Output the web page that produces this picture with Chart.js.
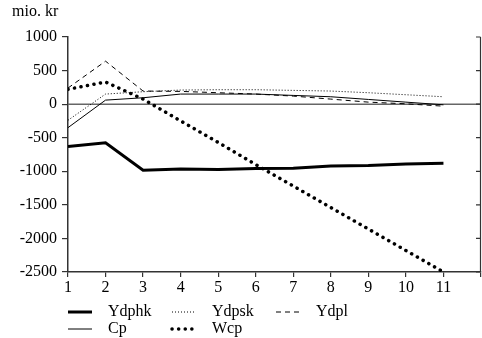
<!DOCTYPE html>
<html>
<head>
<meta charset="utf-8">
<script src="https://cdn.jsdelivr.net/npm/chart.js@4/dist/chart.umd.min.js"></script>
<style>
  html, body { margin: 0; padding: 0; background: #fff; }
  #wrap { width: 482px; height: 338px; position: relative; }
</style>
</head>
<body>
<div id="wrap"><canvas id="chart" width="482" height="338"></canvas></div>
<script>
'use strict';

// periods on the x axis
const periods = [1, 2, 3, 4, 5, 6, 7, 8, 9, 10, 11];

// values, mio. kr
const ydphk = [-630, -575, -985, -965, -975, -960, -955, -920, -915, -890, -880];
const ydpsk = [-240, 150, 185, 210, 215, 215, 205, 195, 170, 140, 110];
const ydpl  = [240, 640, 195, 190, 170, 150, 120, 75, 30, 5, -30];
const cp    = [-350, 60, 95, 150, 150, 150, 130, 110, 70, 30, -10];
const wcp   = [220, 330, 75, -250, -570, -900, -1220, -1540, -1860, -2180, -2500];

const FONT = '"Liberation Serif", "Times New Roman", serif';
const FONT_SIZE = 16;
const AXIS = '#333';

function points(values) {
    return periods.map(function (p, i) { return { x: p, y: values[i] }; });
}

function series(label, values, width, dash, cap) {
    return {
        label: label,
        data: points(values),
        borderColor: '#000',
        borderWidth: width,
        borderDash: dash,
        borderCapStyle: cap || 'butt',
        pointRadius: 0,
        tension: 0,
        fill: false,
    };
}

const datasets = [
    series('Ydphk', ydphk, 3, []),
    series('Ydpsk', ydpsk, 1, [1, 2]),
    series('Ydpl', ydpl, 1, [5, 4]),
    series('Cp', cp, 1, []),
    series('Wcp', wcp, 3.5, [0.1, 6.5], 'round'),
];

// where each legend entry sits: [column x, row y]
const legendSlots = [[68, 312], [172, 312], [276, 312], [68, 329], [172, 329]];

const framePlugin = {
    id: 'frame',
    beforeDatasetsDraw: function (chart) {
        const ctx = chart.ctx;
        const area = chart.chartArea;
        const y = chart.scales.y;
        const zero = y.getPixelForValue(0);

        ctx.save();
        // zero line
        ctx.strokeStyle = '#666';
        ctx.lineWidth = 1.5;
        ctx.beginPath();
        ctx.moveTo(area.left, zero);
        ctx.lineTo(area.right, zero);
        ctx.stroke();

        // right axis with inward ticks
        ctx.strokeStyle = AXIS;
        ctx.lineWidth = 1.2;
        ctx.beginPath();
        ctx.moveTo(area.right - 0.5, y.getPixelForValue(y.max));
        ctx.lineTo(area.right - 0.5, area.bottom);
        y.ticks.forEach(function (t) {
            const py = y.getPixelForValue(t.value);
            ctx.moveTo(area.right - 0.5, py);
            ctx.lineTo(area.right - 5, py);
        });
        ctx.stroke();
        ctx.restore();
    },
    afterDraw: function (chart) {
        const ctx = chart.ctx;
        ctx.save();
        ctx.fillStyle = '#000';
        ctx.font = FONT_SIZE + 'px ' + FONT;
        ctx.textBaseline = 'middle';
        ctx.textAlign = 'left';
        ctx.fillText('mio. kr', 12, 12);

        chart.data.datasets.forEach(function (ds, i) {
            const slot = legendSlots[i];
            ctx.strokeStyle = ds.borderColor;
            ctx.lineWidth = ds.borderWidth;
            ctx.setLineDash(ds.borderDash);
            ctx.lineCap = ds.borderCapStyle;
            ctx.beginPath();
            ctx.moveTo(slot[0], slot[1]);
            ctx.lineTo(slot[0] + 24, slot[1]);
            ctx.stroke();
            ctx.setLineDash([]);
            ctx.fillText(ds.label, slot[0] + 40, slot[1]);
        });
        ctx.restore();
    },
};

new Chart(document.getElementById('chart'), {
    type: 'line',
    data: { datasets: datasets },
    options: {
        responsive: false,
        animation: false,
        devicePixelRatio: 1,
        layout: { padding: { top: 37, right: 1, bottom: 36, left: 0 } },
        plugins: {
            legend: { display: false },
            tooltip: { enabled: false },
        },
        scales: {
            x: {
                type: 'linear',
                min: 1,
                max: 12,
                ticks: {
                    stepSize: 1,
                    color: '#000',
                    font: { family: FONT, size: FONT_SIZE },
                    padding: 1,
                    maxRotation: 0,
                    callback: function (v) { return v === 12 ? '' : String(v); },
                },
                grid: { display: true, drawOnChartArea: false, drawTicks: true, tickLength: 5, color: AXIS, lineWidth: 1.2 },
                border: { display: true, color: AXIS, width: 1.5 },
                afterFit: function (s) { s.height = 30; },
            },
            y: {
                min: -2500,
                max: 1000,
                ticks: {
                    stepSize: 500,
                    color: '#000',
                    font: { family: FONT, size: FONT_SIZE },
                    padding: 5,
                    callback: function (v) { return String(v); },
                },
                grid: { display: true, drawOnChartArea: false, drawTicks: true, tickLength: 6, color: AXIS, lineWidth: 1.2 },
                border: { display: true, color: AXIS, width: 1.5 },
                afterFit: function (s) { s.width = 68; },
            },
        },
    },
    plugins: [framePlugin],
});
</script>
</body>
</html>
